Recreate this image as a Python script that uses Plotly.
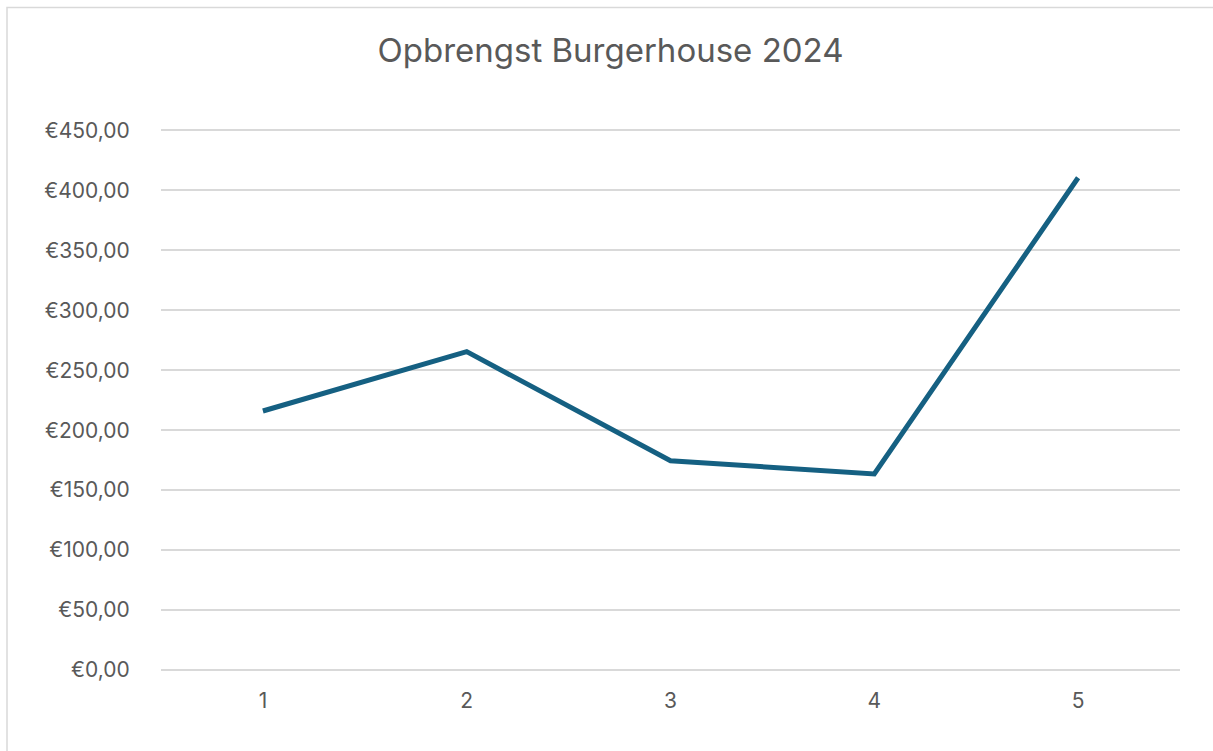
import plotly.graph_objects as go

categories = ["1", "2", "3", "4", "5"]
opbrengst = [216, 265.5, 174.5, 163.5, 410.5]
y_ticks = [0, 50, 100, 150, 200, 250, 300, 350, 400, 450]
y_tick_labels = ["€0,00", "€50,00", "€100,00", "€150,00", "€200,00",
                 "€250,00", "€300,00", "€350,00", "€400,00", "€450,00"]

W, H = 1213, 751
Y_MAX = 452
L, R = 161, 33
B = 80.5
T = 130 - (Y_MAX - 450) * 1.2
pw, ph = W - L - R, H - T - B

FONT = "Inter, 'Open Sans', 'DejaVu Sans', sans-serif"
TXT = "#595959"
GRID = "#d9d9d9"

fig = go.Figure()
fig.add_trace(go.Scatter(
    x=categories, y=opbrengst, mode="lines",
    line=dict(color="#156082", width=5),
    hoverinfo="skip", showlegend=False,
))

fig.update_layout(
    width=W, height=H,
    margin=dict(l=L, r=R, t=T, b=B, pad=0),
    paper_bgcolor="white", plot_bgcolor="white",
    font=dict(family=FONT, color=TXT, size=21),
    title=dict(text="Opbrengst Burgerhouse 2024", x=610.5 / W, xanchor="center",
               y=1 - 50 / H, yanchor="middle",
               font=dict(family=FONT, size=33, color=TXT)),
    xaxis=dict(type="category", range=[-0.5, 4.5], showgrid=False, zeroline=False,
               showline=False, ticks="outside", ticklen=12, tickcolor="rgba(0,0,0,0)",
               tickfont=dict(size=21, color=TXT), fixedrange=True),
    yaxis=dict(range=[0, Y_MAX], tickvals=y_ticks, ticktext=y_tick_labels,
               showgrid=True, gridcolor=GRID, gridwidth=1.5,
               zeroline=True, zerolinecolor=GRID, zerolinewidth=1.5,
               showline=False, ticks="outside", ticklen=26, tickcolor="rgba(0,0,0,0)",
               tickfont=dict(size=21, color=TXT), fixedrange=True),
    shapes=[dict(type="rect", xref="paper", yref="paper",
                 x0=(7 - L) / pw, x1=(W + 5 - L) / pw,
                 y0=(H - B - (H + 5)) / ph, y1=(H - B - 7) / ph,
                 line=dict(color=GRID, width=1.5), fillcolor="rgba(0,0,0,0)", layer="below")],
)

fig.write_html("out.html", config={"displayModeBar": False},
               post_script="document.body.style.margin='0';")
